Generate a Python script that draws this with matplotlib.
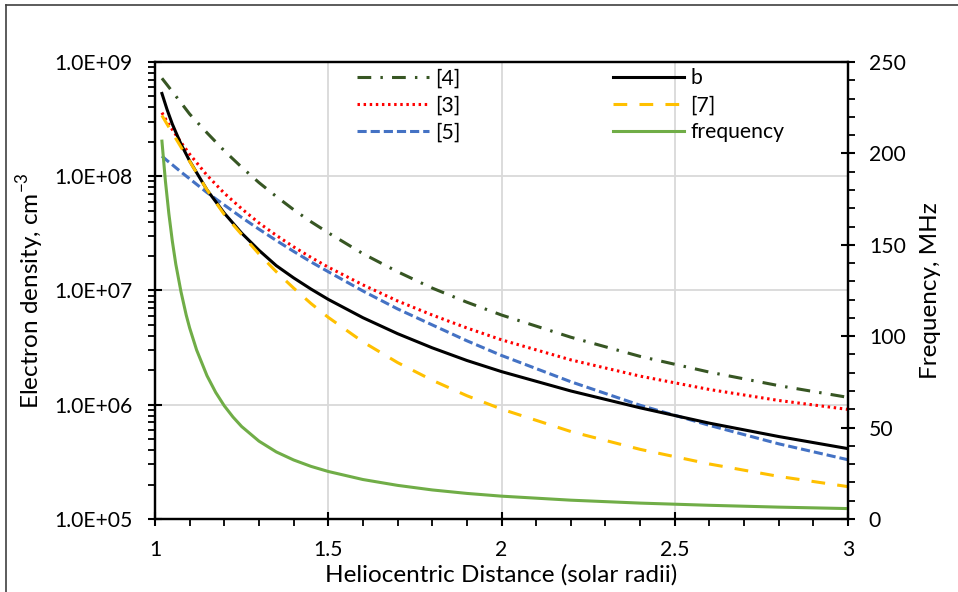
import matplotlib.pyplot as plt
from matplotlib.lines import Line2D
from matplotlib.ticker import FixedLocator, FuncFormatter, LogLocator, NullFormatter, MultipleLocator

plt.rcParams['font.family'] = ['Lato', 'DejaVu Sans']
plt.rcParams['mathtext.fontset'] = 'custom'
plt.rcParams['mathtext.rm'] = 'Lato'

# heliocentric distance (solar radii)
r = [1.02, 1.035, 1.05, 1.075, 1.1, 1.15, 1.2, 1.25, 1.3, 1.35, 1.4, 1.45, 1.5, 1.6,
     1.7, 1.8, 1.9, 2.0, 2.2, 2.4, 2.6, 2.8, 3.0]

# electron density, cm^-3
n_4 = [7.2e8, 6.3e8, 5.5e8, 4.4e8, 3.5e8, 2.4e8, 1.67e8, 1.2e8, 8.8e7, 6.65e7, 5.1e7, 4.0e7, 3.2e7, 2.1e7,
       1.46e7, 1.05e7, 7.9e6, 6.1e6, 3.9e6, 2.65e6, 1.93e6, 1.47e6, 1.16e6]
n_3 = [3.6e8, 3.0e8, 2.56e8, 1.98e8, 1.56e8, 1.02e8, 7.1e7, 5.2e7, 3.9e7, 3.04e7, 2.41e7, 1.95e7, 1.6e7, 1.12e7,
       8.1e6, 6.1e6, 4.7e6, 3.7e6, 2.47e6, 1.78e6, 1.36e6, 1.09e6, 9.1e5]
n_5 = [1.5e8, 1.37e8, 1.26e8, 1.09e8, 9.5e7, 7.2e7, 5.6e7, 4.36e7, 3.44e7, 2.74e7, 2.2e7, 1.78e7, 1.46e7, 9.9e6,
       6.9e6, 5.0e6, 3.63e6, 2.7e6, 1.59e6, 9.9e5, 6.6e5, 4.55e5, 3.3e5]
n_b = [5.3e8, 3.82e8, 2.86e8, 1.91e8, 1.36e8, 7.6e7, 4.75e7, 3.18e7, 2.25e7, 1.65e7, 1.29e7, 1.03e7, 8.36e6, 5.78e6,
       4.19e6, 3.15e6, 2.44e6, 1.95e6, 1.32e6, 9.4e5, 6.9e5, 5.27e5, 4.13e5]
n_7 = [3.4e8, 2.85e8, 2.4e8, 1.8e8, 1.35e8, 7.6e7, 4.62e7, 3.09e7, 2.09e7, 1.46e7, 1.05e7, 7.7e6, 5.82e6, 3.55e6,
       2.34e6, 1.64e6, 1.2e6, 9.16e5, 5.83e5, 4.07e5, 3.03e5, 2.36e5, 1.92e5]

# plasma frequency, MHz
r_f = [1.02, 1.03, 1.04, 1.05, 1.06, 1.075, 1.09, 1.1, 1.12, 1.15, 1.175, 1.2, 1.225, 1.25,
       1.3, 1.35, 1.4, 1.45, 1.5, 1.6, 1.7, 1.8, 1.9, 2.0, 2.2, 2.4, 2.6, 2.8, 3.0]
freq = [206.7, 184.9, 167.0, 152.0, 139.4, 124.3, 111.6, 104.5, 92.5, 78.4, 69.3, 61.9, 55.8, 50.6,
        42.6, 36.7, 32.3, 28.8, 26.0, 21.6, 18.4, 15.9, 14.0, 12.5, 10.3, 8.7, 7.5, 6.5, 5.7]

fig = plt.figure(figsize=(9.58, 5.92), dpi=100)
ax = fig.add_axes([0.1618, 0.1233, 0.7234, 0.772])
ax2 = ax.twinx()

lw = 2.2
l4, = ax.plot(r, n_4, color='#375623', lw=lw, dashes=(4.5, 3, 0.8, 3), label='[4]')
l3, = ax.plot(r, n_3, color='#FF0000', lw=lw, dashes=(0.8, 1.2), label='[3]')
l5, = ax.plot(r, n_5, color='#4472C4', lw=lw, dashes=(3, 1.3), label='[5]')
lb, = ax.plot(r, n_b, color='black', lw=lw, label='b')
l7, = ax.plot(r, n_7, color='#FFC000', lw=lw, dashes=(4.5, 4), label='[7]')
lf, = ax2.plot(r_f, freq, color='#70AD47', lw=lw, label='frequency')

ax.set_yscale('log')
ax.set_ylim(1e5, 1e9)
ax.set_xlim(1, 3)
ax2.set_ylim(0, 250)

ax.xaxis.set_major_locator(FixedLocator([1, 1.5, 2, 2.5, 3]))
ax.xaxis.set_minor_locator(MultipleLocator(0.1))
ax.xaxis.set_major_formatter(FuncFormatter(lambda v, p: '%g' % v))
ax.yaxis.set_major_locator(FixedLocator([1e5, 1e6, 1e7, 1e8, 1e9]))
ax.yaxis.set_minor_locator(LogLocator(base=10, subs=range(2, 10)))
ax.yaxis.set_minor_formatter(NullFormatter())
ax.yaxis.set_major_formatter(FuncFormatter(lambda v, p: '%.1E' % v))
ax2.yaxis.set_major_locator(MultipleLocator(50))
ax2.yaxis.set_minor_locator(MultipleLocator(10))

ax.grid(True, which='major', color='#D9D9D9', lw=1.3)
ax.set_axisbelow(True)

for a in (ax, ax2):
    for s in a.spines.values():
        s.set_linewidth(1.6)
    a.tick_params(which='major', direction='inout', length=10, width=1.5, labelsize=15.2)
    a.tick_params(which='minor', direction='out', length=5, width=1.3)
ax.tick_params(axis='x', which='major', pad=10)
ax.tick_params(axis='y', which='major', pad=11)
ax2.tick_params(axis='y', which='major', pad=10)

ax.set_xlabel('Heliocentric Distance (solar radii)', fontsize=17.5, labelpad=3)
ax.set_ylabel(r'Electron density, cm$^{\mathregular{-3}}$', fontsize=17.5, labelpad=6)
ax2.set_ylabel('Frequency, MHz', fontsize=17.5, labelpad=10)

ax2.legend([l4, l3, l5, lb, l7, lf], ['[4]', '[3]', '[5]', 'b', '[7]', 'frequency'],
           ncol=2, frameon=False, fontsize=15.2, loc='center', bbox_to_anchor=(0.6, 0.905),
           handlelength=3.4, handletextpad=0.3, labelspacing=0.33, columnspacing=7.2)

# chart border (top and left edges)
fig.add_artist(Line2D([0.0063, 0.0063], [0, 0.992], color='#404040', lw=1.2))
fig.add_artist(Line2D([0.0063, 1], [0.992, 0.992], color='#404040', lw=1.2))

fig.savefig('out.png', dpi=100)
